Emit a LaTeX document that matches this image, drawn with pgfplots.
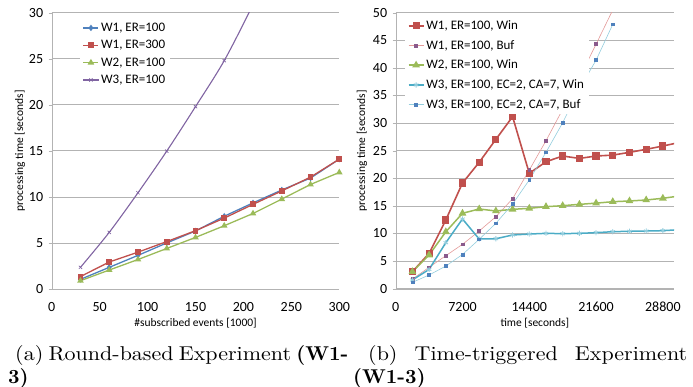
\documentclass[border=0pt]{standalone}
\usepackage{fontspec}
\usepackage{pgfplots}
\pgfplotsset{compat=1.18}
\newfontfamily\carlito{Carlito}
\newfontfamily\capfont[BoldFont=lmroman10-bold.otf]{lmroman10-regular.otf}
\newcommand{\tl}[1]{\hbox{\carlito\fontsize{14}{16}\selectfont #1}}
\newcommand{\capw}[1]{\scalebox{1.1}[1]{#1}}
\definecolor{xblue}{HTML}{4F81BD}
\definecolor{xred}{HTML}{C0504D}
\definecolor{xgreen}{HTML}{9BBB59}
\definecolor{xpurple}{HTML}{8064A2}
\definecolor{xaqua}{HTML}{4BACC6}
\definecolor{xlightred}{HTML}{E39A99}
\definecolor{xlightaqua}{HTML}{93CDDD}
\definecolor{xbufmark}{HTML}{8A5A8C}
\definecolor{xgrid}{HTML}{B3B3B3}
\begin{document}
\begin{tikzpicture}
\useasboundingbox (0pt,0pt) rectangle (693pt,-387pt);
\pgfplotsset{exstyle/.style={
  scale only axis,
  axis x line*=bottom, axis y line*=left,
  axis line style={draw=xgrid,-},
  ymajorgrids, grid style={xgrid, line width=0.7pt},
  tick align=outside, major tick length=3pt,
  ytick style={draw=xgrid}, xtick style={draw=none},
  scaled ticks=false,
  label style={font=\carlito\fontsize{11.5}{13}\selectfont},
  legend cell align=left,
  legend style={draw=none, fill=white, font=\carlito\fontsize{13}{15}\selectfont, anchor=north west},
  legend image code/.code={\draw[mark repeat=2,mark phase=2,##1] plot coordinates {(0pt,0pt) (7.5pt,0pt) (15pt,0pt)};},
  xticklabel style={yshift=-7pt},
  yticklabel style={xshift=-2pt},
}}
\begin{axis}[exstyle,
  at={(51.7pt,-289pt)}, anchor=south west,
  width=287.6pt, height=276.3pt,
  xmin=0, xmax=300, ymin=0, ymax=30,
  xtick={0,50,100,150,200,250,300}, xticklabels={\tl{0},\tl{50},\tl{100},\tl{150},\tl{200},\tl{250},\tl{300}},
  ytick={0,5,10,15,20,25,30}, yticklabels={\tl{0},\tl{5},\tl{10},\tl{15},\tl{20},\tl{25},\tl{30}},
  xlabel={\#subscribed events [1000]},
  ylabel={processing time [seconds]},
  x label style={at={(axis description cs:0.5,-0.123)}, anchor=center},
  y label style={at={(axis description cs:-0.110,0.5)}, anchor=center},
  legend style={at={(axis description cs:0.097,0.978)}, row sep=3.4pt},
]
\addplot[xblue, line width=1.3pt, mark=diamond*, mark size=2.2pt] coordinates {
(30,1.05) (60,2.35) (90,3.65) (120,5.00) (150,6.30) (180,7.90) (210,9.35) (240,10.75) (270,12.05) (300,14.10)};
\addlegendentry{W1, ER=100}
\addplot[xred, line width=1.3pt, mark=square*, mark size=2.3pt] coordinates {
(30,1.35) (60,2.93) (90,4.00) (120,5.15) (150,6.33) (180,7.70) (210,9.19) (240,10.65) (270,12.15) (300,14.10)};
\addlegendentry{W1, ER=300}
\addplot[xgreen, line width=1.3pt, mark=triangle*, mark size=2.5pt] coordinates {
(30,0.90) (60,2.06) (90,3.20) (120,4.40) (150,5.60) (180,6.87) (210,8.20) (240,9.76) (270,11.35) (300,12.66)};
\addlegendentry{W2, ER=100}
\addplot[xpurple, line width=1.1pt, smooth, mark=x, mark size=2.3pt, mark options={line width=0.6pt}] coordinates {
(30,2.35) (60,6.15) (90,10.45) (120,14.97) (150,19.8) (180,24.8) (210,30.9) (240,37.5)};
\addlegendentry{W3, ER=100}
\end{axis}
\begin{axis}[exstyle,
  at={(395.7pt,-288.7pt)}, anchor=south west,
  width=278.3pt, height=276pt,
  xmin=0, xmax=30000, ymin=0, ymax=50,
  xtick={0,7200,14400,21600,28800}, xticklabels={\tl{0},\tl{7200},\tl{14400},\tl{21600},\tl{28800}},
  ytick={0,5,10,15,20,25,30,35,40,45,50}, yticklabels={\tl{0},\tl{5},\tl{10},\tl{15},\tl{20},\tl{25},\tl{30},\tl{35},\tl{40},\tl{45},\tl{50}},
  xlabel={time [seconds]},
  ylabel={processing time [seconds]},
  x label style={at={(axis description cs:0.5,-0.123)}, anchor=center},
  y label style={at={(axis description cs:-0.121,0.5)}, anchor=center},
  legend style={at={(axis description cs:0.032,0.987)}, row sep=5.3pt},
]
\addplot[xred, line width=1.6pt, mark=square*, mark size=2.8pt] coordinates {
(1800,3.08) (3600,6.4) (5400,12.45) (7200,19.15) (9000,22.9) (10800,27.06) (12600,31.16) (14400,20.9) (16200,23.0) (18000,24.04) (19800,23.6) (21600,24.04) (23400,24.2) (25200,24.7) (27000,25.25) (28800,25.85) (30600,26.5)};
\addlegendentry{W1, ER=100, Win}
\addplot[xlightred, line width=0.6pt, mark=square*, mark size=1.4pt, mark options={fill=xbufmark, draw=xbufmark}] coordinates {
(1800,1.75) (3600,3.87) (5400,5.98) (7200,8.04) (9000,10.45) (10800,13.05) (12600,16.3) (14400,21.5) (16200,26.8) (18000,32.5) (19800,38.2) (21600,44.3) (23400,50.5)};
\addlegendentry{W1, ER=100, Buf}
\addplot[xgreen, line width=1.5pt, mark=triangle*, mark size=3pt] coordinates {
(1800,3.08) (3600,6.1) (5400,10.3) (7200,13.66) (9000,14.44) (10800,14.08) (12600,14.38) (14400,14.56) (16200,14.86) (18000,15.04) (19800,15.28) (21600,15.5) (23400,15.76) (25200,15.89) (27000,16.07) (28800,16.38) (30600,16.8)};
\addlegendentry{W2, ER=100, Win}
\addplot[xaqua, line width=1.5pt, mark=asterisk, mark size=2.6pt, mark options={draw=xlightaqua, line width=0.8pt}] coordinates {
(1800,1.58) (3600,3.5) (5400,8.33) (7200,12.63) (9000,9.0) (10800,9.05) (12600,9.73) (14400,9.9) (16200,10.03) (18000,9.97) (19800,10.03) (21600,10.15) (23400,10.33) (25200,10.4) (27000,10.45) (28800,10.51) (30600,10.7)};
\addlegendentry{W3, ER=100, EC=2, CA=7, Win}
\addplot[xlightaqua, line width=0.6pt, mark=square*, mark size=1.4pt, mark options={fill=xblue, draw=xblue}] coordinates {
(1800,1.15) (3600,2.48) (5400,4.1) (7200,6.2) (9000,8.95) (10800,11.85) (12600,15.34) (14400,19.7) (16200,24.7) (18000,30.07) (19800,36.2) (21600,41.4) (23400,47.9)};
\addlegendentry{W3, ER=100, EC=2, CA=7, Buf}
\end{axis}
\begin{scope}[every node/.style={inner sep=0pt, font=\capfont\fontsize{20}{24}\selectfont}]
\node[anchor=base west] at (15pt,-360.7pt) {\makebox[333pt][s]{\capw{(a)} \capw{Round-based} \capw{Experiment} \textbf{(W1-}}};
\node[anchor=base west] at (8pt,-383.3pt) {\textbf{3)}};
\node[anchor=base west] at (368pt,-360.7pt) {\makebox[319pt][s]{\capw{(b)} \capw{Time-triggered} \capw{Experiment}}};
\node[anchor=base west] at (353pt,-383.3pt) {\textbf{(W1-3)}};
\end{scope}
\end{tikzpicture}
\end{document}
